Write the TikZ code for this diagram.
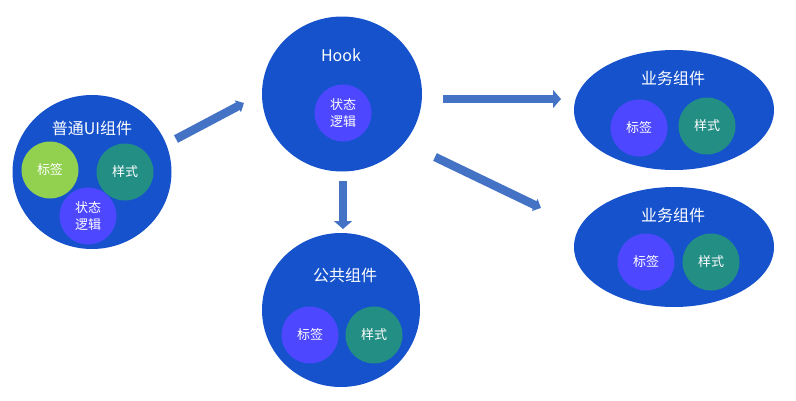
\documentclass[tikz,border=0pt]{standalone}
\usepackage{fontspec}
\setmainfont{Noto Sans CJK SC}
\newfontfamily\cjk{Noto Sans CJK SC}
\usepackage{tikz}
\usetikzlibrary{positioning}
\usetikzlibrary{shapes.geometric}
\usetikzlibrary{arrows.meta}
\definecolor{bigblue}{RGB}{22,82,204}
\definecolor{tagpurple}{RGB}{77,72,255}
\definecolor{styleteal}{RGB}{35,142,132}
\definecolor{taggreen}{RGB}{146,208,80}
\definecolor{arrowblue}{RGB}{68,114,196}
\tikzset{
  comp/.style={ellipse, fill=bigblue, inner sep=0pt, minimum width=160pt, minimum height=155pt},
  bizcomp/.style={ellipse, fill=bigblue, inner sep=0pt, minimum width=200pt, minimum height=120pt},
  part/.style={circle, inner sep=0pt, minimum size=57pt, text=white, align=center,
    font=\cjk\fontsize{13}{17}\selectfont},
  title/.style={text=white, font=\cjk\fontsize{16}{19}\selectfont},
  flow/.style={draw=arrowblue, line width=8.5pt, -{Triangle[width=18pt,length=8pt]}},
  slantflow/.style={flow, -{Triangle[width=13pt,length=7pt]}}
}
\begin{document}
\begin{tikzpicture}[x=1pt,y=-1pt]
\useasboundingbox (0,0) rectangle (796,400);
% plain UI component
\node[comp, minimum width=159pt, minimum height=154pt] (ui) at (92,172) {};
\node[title] (uiname) at (92,128) {普通UI组件};
\node[part, fill=taggreen] (uitag) at (50,170) {标签};
\node[part, fill=styleteal] (uistyle) at (125,172) {样式};
\node[part, fill=tagpurple] (uistate) at (88,216) {状态\\逻辑};
% hook
\node[comp] (hook) at (342,94) {};
\node[title] (hookname) at (341,55) {Hook};
\node[part, fill=tagpurple] (hookstate) at (343,113) {状态\\逻辑};
% common component
\node[comp, minimum width=158pt, minimum height=154pt] (common) at (341,310) {};
\node[title] (commonname) at (345,275) {公共组件};
\node[part, fill=tagpurple] (commontag) at (310,335) {标签};
\node[part, fill=styleteal] (commonstyle) at (374,335) {样式};
% business components
\node[bizcomp] (biz1) at (674,110) {};
\node[title] (biz1name) at (673,78) {业务组件};
\node[part, fill=tagpurple] (biz1tag) at (639,128) {标签};
\node[part, fill=styleteal] (biz1style) at (707,126) {样式};
\node[bizcomp] (biz2) at (674,247) {};
\node[title] (biz2name) at (673,215) {业务组件};
\node[part, fill=tagpurple] (biz2tag) at (646,262) {标签};
\node[part, fill=styleteal] (biz2style) at (711,262) {样式};
% arrows
\coordinate (uiout) at (176,139);
\coordinate (hookin) at (244,103);
\coordinate (hookdown) at (343,181);
\coordinate (commonin) at (343,229);
\coordinate (hookright) at (443,99);
\coordinate (biz1in) at (561,99);
\coordinate (hookdiag) at (435,157);
\coordinate (biz2in) at (541,208);
\draw[slantflow] (uiout) -- (hookin);
\draw[flow] (hookdown) -- (commonin);
\draw[flow] (hookright) -- (biz1in);
\draw[slantflow] (hookdiag) -- (biz2in);
\end{tikzpicture}
\end{document}
